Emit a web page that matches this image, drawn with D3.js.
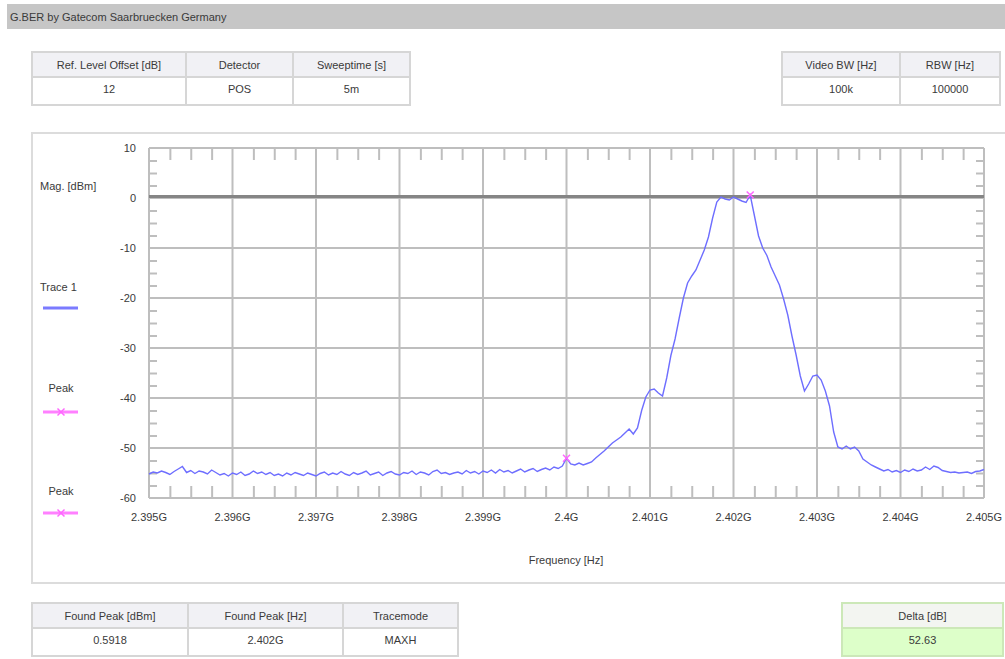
<!DOCTYPE html>
<html>
<head>
	<title>G.BER spectrum</title>
	<script src="https://cdn.jsdelivr.net/npm/d3@7"></script>
	<style type="text/css">
	html, body{
		margin:0;
		background:#fff;
	}
	svg text{
		font-family: "Liberation Sans", Arial, sans-serif;
		font-size: 11px;
		fill: #3a3a3a;
	}
	</style>
</head>
<body>
<svg id="chart" width="1005" height="659"></svg>
<script type="text/javascript">
	// sweep settings and trace (dBm), one value per sweep point
	var freqStart = 2.395e9, freqStop = 2.405e9;
	var trace1 = [
		-55.2,-54.8,-55.0,-54.6,-54.9,-55.3,-54.7,-54.2,-53.7,-54.9,-54.5,-55.1,-54.6,-54.8,-55.2,-54.4,-54.9,-55.4,-55.1,-55.6,
		-55.0,-55.3,-54.8,-55.5,-55.2,-54.6,-55.1,-54.8,-55.3,-54.9,-55.5,-55.2,-55.6,-55.0,-55.4,-54.9,-55.2,-55.5,-55.0,-55.3,
		-55.6,-55.1,-54.8,-55.4,-55.0,-55.3,-54.7,-55.2,-55.5,-54.9,-55.3,-55.0,-54.6,-55.4,-55.1,-54.8,-55.5,-55.0,-54.7,-55.2,
		-55.4,-54.9,-55.1,-54.6,-55.3,-54.8,-55.0,-55.4,-54.7,-54.4,-55.1,-54.9,-55.3,-55.0,-54.8,-55.2,-54.5,-55.0,-54.7,-55.2,
		-54.6,-54.9,-54.4,-55.0,-54.3,-54.8,-54.5,-55.0,-54.6,-54.2,-54.8,-54.4,-54.1,-54.7,-54.3,-54.0,-54.4,-53.8,-54.1,-53.6,
		-52.04,-53.2,-53.4,-53.0,-53.4,-53.1,-52.8,-52.0,-51.3,-50.6,-49.8,-49.0,-48.4,-47.8,-47.0,-46.2,-47.2,-46.0,-42.5,-39.8,
		-38.4,-38.2,-39.0,-39.6,-36.0,-31.5,-28.2,-24.0,-20.0,-17.0,-15.6,-14.4,-12.4,-10.4,-7.8,-4.0,-0.8,0.2,-0.2,-0.4,
		0.2,-0.2,-0.6,-0.9,0.5918,-3.5,-7.6,-10.0,-11.5,-13.8,-15.6,-17.4,-20.2,-23.4,-27.6,-31.4,-35.6,-38.6,-37.2,-35.6,
		-35.4,-36.4,-38.6,-41.6,-46.8,-49.8,-50.2,-49.6,-50.2,-49.8,-50.6,-52.2,-52.8,-53.4,-53.8,-54.2,-54.6,-54.3,-54.8,-54.5,
		-54.9,-54.4,-54.7,-54.2,-54.6,-54.4,-53.8,-54.3,-53.6,-53.9,-54.5,-54.7,-54.9,-54.8,-55.0,-54.9,-54.8,-55.1,-54.7,-54.6,
		-54.3
	];
	var peak2Freq = 2.4e9;

	var xTicks = [2.395e9,2.396e9,2.397e9,2.398e9,2.399e9,2.4e9,2.401e9,2.402e9,2.403e9,2.404e9,2.405e9];
	var xTickLabels = ["2.395G","2.396G","2.397G","2.398G","2.399G","2.4G","2.401G","2.402G","2.403G","2.404G","2.405G"];
	var yTicks = [10,0,-10,-20,-30,-40,-50,-60];

	var topTableA = {heads:["Ref. Level Offset [dB]","Detector","Sweeptime [s]"], vals:["12","POS","5m"]};
	var topTableB = {heads:["Video BW [Hz]","RBW [Hz]"], vals:["100k","100000"]};
	var botTableA = {heads:["Found Peak [dBm]","Found Peak [Hz]","Tracemode"], vals:["0.5918","2.402G","MAXH"]};
	var botTableB = {heads:["Delta [dB]"], vals:["52.63"]};

	var svg = d3.select("#chart");

	// title bar
	svg.append("rect").attr("x",7).attr("y",4).attr("width",998).attr("height",25).attr("fill","#c6c6c6");
	svg.append("text").attr("x",10).attr("y",21).text("G.BER by Gatecom Saarbruecken Germany");

	function table(x, y, widths, t, headFill, valFill, border){
		var g = svg.append("g");
		var cx = x;
		widths.forEach(function(w, i){
			g.append("rect").attr("x",cx).attr("y",y).attr("width",w).attr("height",25)
				.attr("fill",headFill).attr("stroke",border).attr("stroke-width",2);
			g.append("rect").attr("x",cx).attr("y",y+25).attr("width",w).attr("height",28)
				.attr("fill",valFill).attr("stroke",border).attr("stroke-width",2);
			g.append("text").attr("x",cx+w/2).attr("y",y+17).attr("text-anchor","middle").text(t.heads[i]);
			g.append("text").attr("x",cx+w/2).attr("y",y+41).attr("text-anchor","middle").text(t.vals[i]);
			cx += w;
		});
	}
	table(32, 52, [154,107,117], topTableA, "#f1f1f5", "#fff", "#d6d6d6");
	table(782, 52, [118,100], topTableB, "#f1f1f5", "#fff", "#d6d6d6");
	table(32, 603, [156,155,115], botTableA, "#f1f1f5", "#fff", "#d6d6d6");
	table(842, 603, [161], botTableB, "#f3f5f1", "#ddffc9", "#cce8b8");

	// chart box
	svg.append("rect").attr("x",32).attr("y",133).attr("width",990).attr("height",450)
		.attr("fill","#fff").attr("stroke","#dcdcdc").attr("stroke-width",2);

	var x = d3.scaleLinear().domain([freqStart, freqStop]).range([149, 984]);
	var y = d3.scaleLinear().domain([-60, 10]).range([498, 148]);

	var step = (freqStop - freqStart) / (trace1.length - 1);
	var pts = trace1.map(function(v, i){ return {f: freqStart + i*step, v: v}; });

	var grid = svg.append("g").attr("stroke","#bebebe").attr("stroke-width",2);
	grid.selectAll(".vg").data(xTicks).enter().append("line")
		.attr("x1",function(d){return x(d);}).attr("x2",function(d){return x(d);})
		.attr("y1",y(10)).attr("y2",y(-60));
	grid.selectAll(".hg").data(yTicks).enter().append("line")
		.attr("x1",x(freqStart)).attr("x2",x(freqStop))
		.attr("y1",function(d){return y(d);}).attr("y2",function(d){return y(d);});

	// minor ticks
	var xMinor = d3.range(0, 41).map(function(i){ return freqStart + i*0.25e6; })
		.filter(function(d, i){ return i % 4 != 0; });
	var yMinor = d3.range(0, 29).map(function(i){ return 10 - i*2.5; })
		.filter(function(d, i){ return i % 4 != 0; });

	function styleAxis(g){
		g.select(".domain").remove();
		g.selectAll("text").remove();
		g.selectAll("line").attr("stroke","#bebebe").attr("stroke-width",2);
	}
	svg.append("g").attr("transform","translate(0,"+y(-60)+")")
		.call(d3.axisTop(x).tickValues(xMinor).tickSize(12)).call(styleAxis);
	svg.append("g").attr("transform","translate(0,"+y(10)+")")
		.call(d3.axisBottom(x).tickValues(xMinor).tickSize(12)).call(styleAxis);
	svg.append("g").attr("transform","translate("+x(freqStart)+",0)")
		.call(d3.axisRight(y).tickValues(yMinor).tickSize(8)).call(styleAxis);
	svg.append("g").attr("transform","translate("+x(freqStop)+",0)")
		.call(d3.axisLeft(y).tickValues(yMinor).tickSize(8)).call(styleAxis);

	// reference level line
	svg.append("line").attr("x1",x(freqStart)).attr("x2",x(freqStop))
		.attr("y1",y(0)-1.5).attr("y2",y(0)-1.5).attr("stroke","#858585").attr("stroke-width",3);

	// labels
	svg.selectAll(".yl").data(yTicks).enter().append("text")
		.attr("x",136).attr("y",function(d){return y(d)+4;}).attr("text-anchor","end")
		.text(function(d){return d;});
	svg.selectAll(".xl").data(xTicks).enter().append("text")
		.attr("x",function(d){return x(d);}).attr("y",521).attr("text-anchor","middle")
		.text(function(d,i){return xTickLabels[i];});
	svg.append("text").attr("x",566).attr("y",564).attr("text-anchor","middle").text("Frequency [Hz]");

	// trace
	var line = d3.line().x(function(d){return x(d.f);}).y(function(d){return y(d.v);});
	svg.append("path").datum(pts).attr("d",line).attr("fill","none")
		.attr("stroke","#6e6eff").attr("stroke-width",1.4);

	// markers
	var p1 = pts[d3.maxIndex(pts, function(d){return d.v;})];
	var p2 = pts[Math.round((peak2Freq - freqStart)/step)];
	function marker(cx, cy){
		var g = svg.append("g").attr("stroke","#ff66ff").attr("stroke-width",1.5);
		g.append("line").attr("x1",cx-3.5).attr("x2",cx+3.5).attr("y1",cy-3.5).attr("y2",cy+3.5);
		g.append("line").attr("x1",cx-3.5).attr("x2",cx+3.5).attr("y1",cy+3.5).attr("y2",cy-3.5);
	}
	marker(x(p1.f), y(p1.v));
	marker(x(p2.f), y(p2.v));

	// legend
	svg.append("text").attr("x",40).attr("y",190).text("Mag. [dBm]");
	svg.append("text").attr("x",40).attr("y",291).text("Trace 1");
	svg.append("line").attr("x1",43).attr("x2",78).attr("y1",308).attr("y2",308)
		.attr("stroke","#7b7bff").attr("stroke-width",3);
	[[392,412],[495,513]].forEach(function(p){
		svg.append("text").attr("x",61).attr("y",p[0]).attr("text-anchor","middle").text("Peak");
		svg.append("line").attr("x1",43).attr("x2",78).attr("y1",p[1]).attr("y2",p[1])
			.attr("stroke","#ff80ff").attr("stroke-width",3);
		marker(61, p[1]);
	});
</script>
</body>
</html>
